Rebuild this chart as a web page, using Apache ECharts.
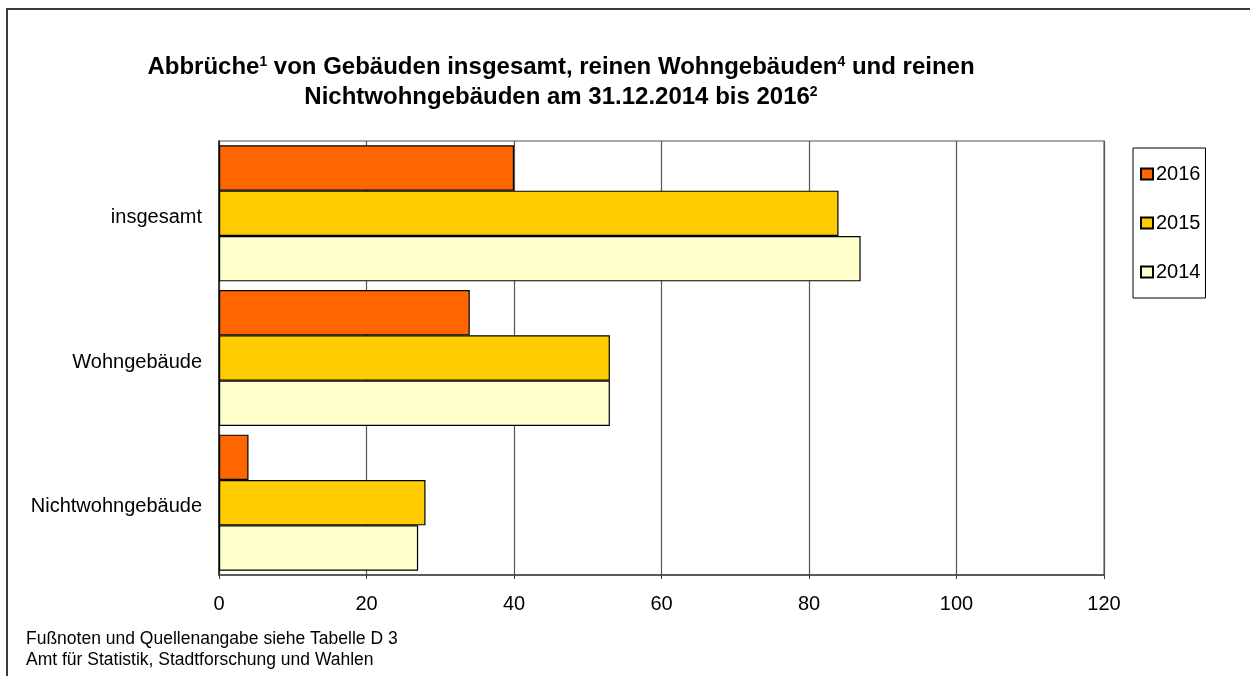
<!DOCTYPE html>
<html>
<head>
<meta charset="utf-8">
<script src="https://cdn.jsdelivr.net/npm/echarts@6/dist/echarts.min.js"></script>
<style>
html,body{margin:0;padding:0;background:#fff;}
#chart{width:1250px;height:676px;}
</style>
</head>
<body>
<div id="chart"></div>
<script>
var categories = ['insgesamt', 'Wohngebäude', 'Nichtwohngebäude'];
var years = ['2016', '2015', '2014'];
var values2016 = [40, 34, 4];
var values2015 = [84, 53, 28];
var values2014 = [87, 53, 27];
var xTicks = [0, 20, 40, 60, 80, 100, 120];
var titleLine1 = '{b|Abbrüche}{s|1}{b| von Gebäuden insgesamt, reinen Wohngebäuden}{s|4}{b| und reinen}';
var titleLine2 = '{b|Nichtwohngebäuden am 31.12.2014 bis 2016}{s|2}';
var footer1 = 'Fußnoten und Quellenangabe siehe Tabelle D 3';
var footer2 = 'Amt für Statistik, Stadtforschung und Wahlen';

var FONT = "'Liberation Sans', Arial, sans-serif";
var colors = ['#FF6600', '#FFCC00', '#FFFFCC'];
var seriesValues = [values2016, values2015, values2014];

var titleRich = {
  b: {fontFamily: FONT, fontSize: 24, fontWeight: 'bold', color: '#000', lineHeight: 30, verticalAlign: 'top'},
  s: {fontFamily: FONT, fontSize: 14, fontWeight: 'bold', color: '#000', lineHeight: 20, verticalAlign: 'top'}
};

var chart = echarts.init(document.getElementById('chart'), null, {renderer: 'canvas'});
var option = {
  backgroundColor: '#fff',
  animation: false,
  textStyle: {fontFamily: FONT},
  grid: {
    left: 219, right: 146, top: 141, bottom: 101,
    show: true, borderColor: '#8c8c8c', borderWidth: 1.5, containLabel: false
  },
  legend: {
    orient: 'vertical',
    left: 1133, top: 148,
    data: years,
    icon: 'rect',
    itemWidth: 12, itemHeight: 11,
    itemGap: 29,
    padding: [16, 5, 16, 7],
    borderColor: '#000', borderWidth: 1,
    textStyle: {fontFamily: FONT, fontSize: 20, color: '#000', padding: [0, 0, 0, -2]},
    selectedMode: false
  },
  xAxis: {
    type: 'value', min: 0, max: 120, interval: 20,
    axisLine: {show: true, lineStyle: {color: '#404040', width: 1.5}},
    axisTick: {show: true, inside: false, length: 4, lineStyle: {color: '#404040'}},
    axisLabel: {fontFamily: FONT, fontSize: 20, color: '#000', margin: 19,
      formatter: function (v) { return xTicks.indexOf(v) >= 0 ? String(v) : ''; }},
    splitLine: {show: true, lineStyle: {color: '#555', width: 1.2}}
  },
  yAxis: {
    type: 'category', data: categories, inverse: true,
    axisLine: {show: true, lineStyle: {color: '#202020', width: 1.5}},
    axisTick: {show: false},
    axisLabel: {fontFamily: FONT, fontSize: 20, color: '#000', margin: 17, verticalAlign: 'top', lineHeight: 8}
  },
  series: years.map(function (y, i) {
    return {
      name: y, type: 'bar', data: seriesValues[i],
      barGap: '0%', barCategoryGap: '6%',
      itemStyle: {color: colors[i], borderColor: '#000', borderWidth: 1.2}
    };
  }),
  graphic: [
    {type: 'rect', shape: {x: 7, y: 9, width: 1300, height: 720}, style: {fill: 'none', stroke: '#3a3a3a', lineWidth: 2}, silent: true, z: -10},
    {type: 'text', x: 561, y: 55, style: {text: titleLine1, rich: titleRich, align: 'center', verticalAlign: 'top'}},
    {type: 'text', x: 561, y: 85, style: {text: titleLine2, rich: titleRich, align: 'center', verticalAlign: 'top'}},
    {type: 'text', x: 26, y: 639, style: {text: footer1, font: '17.5px ' + FONT, fill: '#000', align: 'left', verticalAlign: 'middle'}},
    {type: 'text', x: 26, y: 660, style: {text: footer2, font: '17.5px ' + FONT, fill: '#000', align: 'left', verticalAlign: 'middle'}}
  ]
};
chart.setOption(option);
</script>
</body>
</html>
